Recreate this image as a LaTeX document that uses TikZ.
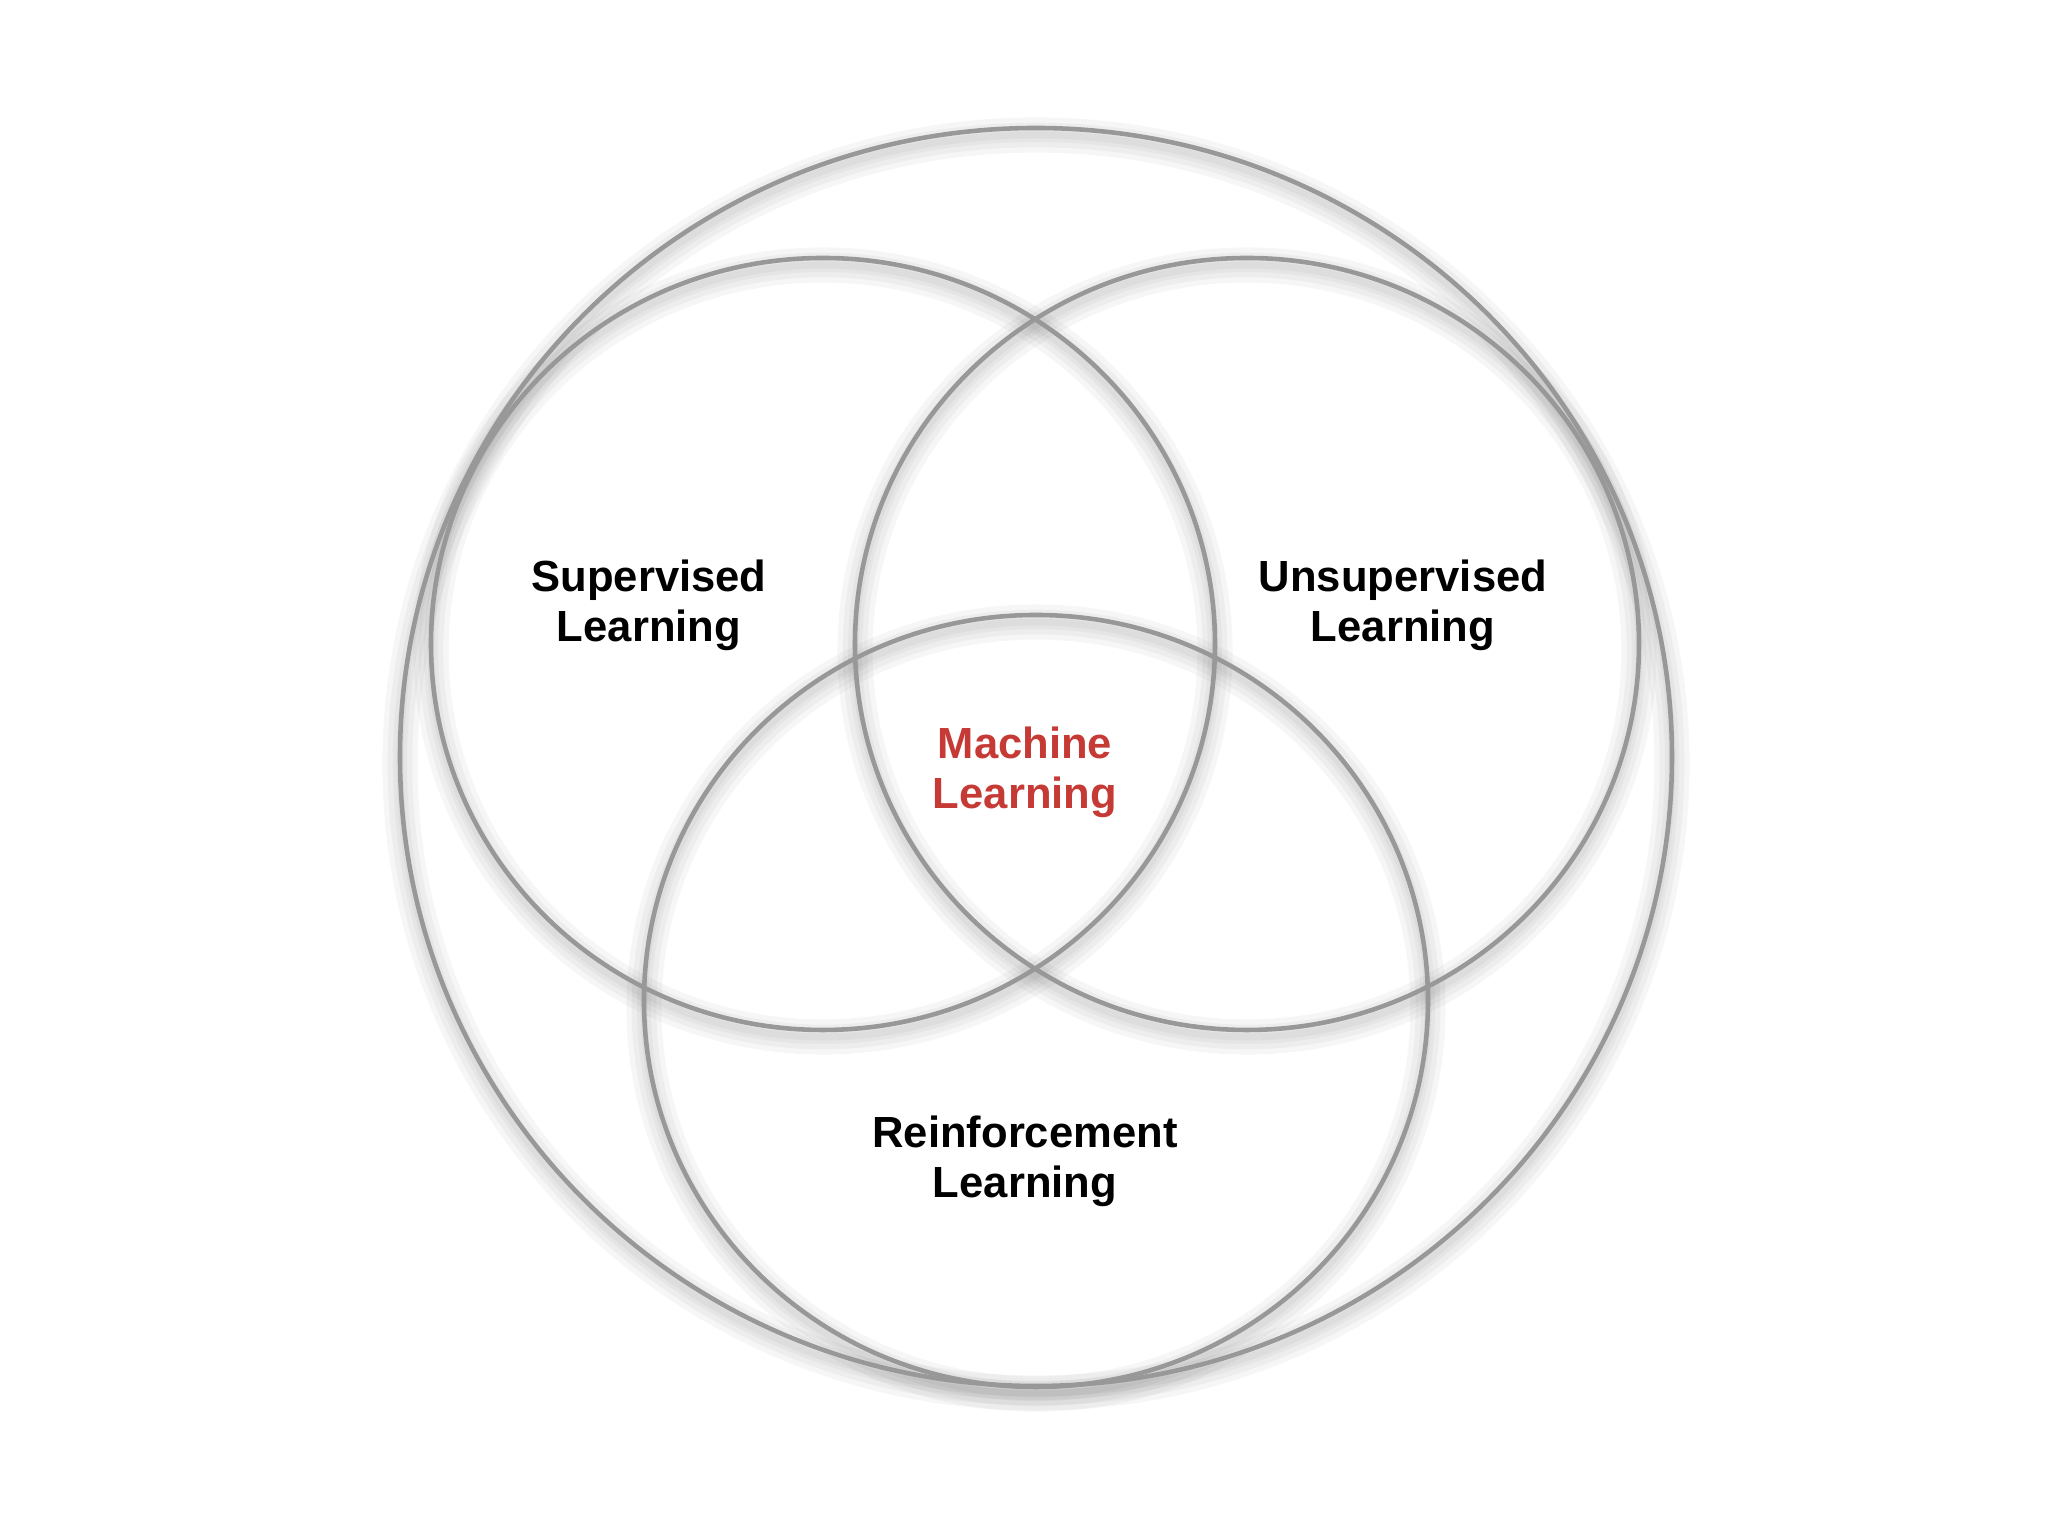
\documentclass[tikz,border=0pt]{standalone}
\usepackage{fontspec}
\setmainfont{Liberation Sans}
\usetikzlibrary{positioning}

\definecolor{ringgray}{RGB}{152,152,152}
\definecolor{mlred}{RGB}{198,58,54}

\tikzset{
	ring/.style={draw=ringgray, line width=1.3pt},
	ringshade/.style={draw=black, line width=#1, opacity=0.035},
	lbl/.style={font=\bfseries\fontsize{12.4}{14.2}\selectfont, align=center, text=black},
	mllbl/.style={lbl, text=mlred}
}

\begin{document}
\begin{tikzpicture}
	
	\useasboundingbox (0,0) rectangle (20.48,15.36);
	
	% soft shadow under the rings
	\foreach \w in {2pt,4pt,7pt,10pt} {
		\draw[ringshade=\w] (10.36,7.72) ellipse (6.36 and 6.29);
		\draw[ringshade=\w] (8.23,8.85) ellipse (3.92 and 3.86);
		\draw[ringshade=\w] (12.47,8.85) ellipse (3.92 and 3.86);
		\draw[ringshade=\w] (10.36,5.28) ellipse (3.92 and 3.86);
	}
	
	\draw[ring] (10.36,7.79) ellipse (6.36 and 6.29);
	\draw[ring] (8.23,8.92) ellipse (3.92 and 3.86);
	\draw[ring] (12.47,8.92) ellipse (3.92 and 3.86);
	\draw[ring] (10.36,5.35) ellipse (3.92 and 3.86);
	
	\node[lbl] (sup) at (6.49,9.31) {Supervised\\Learning};
	\node[lbl] (unsup) at (14.03,9.31) {Unsupervised\\Learning};
	\node[mllbl] (ml) at (10.25,7.64) {Machine\\Learning};
	\node[lbl] (reinf) at (10.25,3.75) {Reinforcement\\Learning};
	
\end{tikzpicture}
\end{document}
